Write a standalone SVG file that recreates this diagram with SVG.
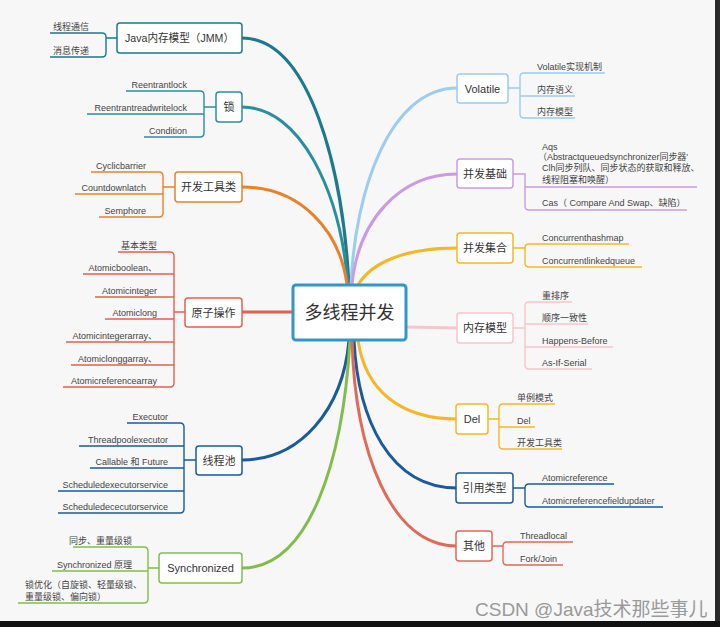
<svg xmlns="http://www.w3.org/2000/svg" width="720" height="627" viewBox="0 0 720 627">
<style>
text{font-family:"Liberation Sans","Noto Sans CJK SC",sans-serif;fill:#444}
.n{font-size:11px;text-anchor:middle;fill:#333}
.c{font-size:9px}
.l{text-anchor:end}
.box{fill:#fff;stroke-width:1.5}
.main{fill:none;stroke-width:3;stroke-linecap:round}
.br{fill:none;stroke-width:1.4}
</style>
<rect width="720" height="627" fill="#f7f7f7"/>
<g id="connectors">
<path class="main" stroke="#1b7a8c" d="M242 38 C310 38,343 170,349 285"/>
<path class="main" stroke="#2b8e9c" d="M242 107 C300 107,340 190,348 285"/>
<path class="main" stroke="#e8822a" d="M242 187 C300 187,340 230,347 285"/>
<path class="main" stroke="#e06150" d="M242 312 H293"/>
<path class="main" stroke="#1a5c9a" d="M242 460 C300 460,343 410,349 340"/>
<path class="main" stroke="#82bd4b" d="M242 568 C310 568,343 460,350 340"/>
<path class="main" stroke="#9cccf0" d="M457 88 C390 88,355 190,351 285"/>
<path class="main" stroke="#c99be3" d="M457 174 C400 174,358 220,352 285"/>
<path class="main" stroke="#f2b825" d="M457 248 C400 248,370 265,358 285"/>
<path class="main" stroke="#f7c5cc" d="M406 327 C430 327,435 328,457 328"/>
<path class="main" stroke="#f2b825" d="M457 419 C400 419,365 390,358 340"/>
<path class="main" stroke="#1a5c9a" d="M457 488 C390 488,358 420,354 340"/>
<path class="main" stroke="#e06a5a" d="M457 546 C390 546,355 450,352 340"/>
</g>
<g id="center">
<rect x="293" y="285" width="113" height="55" rx="3" fill="#fff" stroke="#3396c8" stroke-width="3"/>
<text x="349.5" y="319" style="font-size:18px;text-anchor:middle;fill:#333">多线程并发</text>
</g>
<g id="jmm">
<path class="br" stroke="#1b7a8c" d="M50 33 H102 Q106 33 106 37 V53 Q106 57 102 57 H50 M106 38 H117"/>
<rect class="box" stroke="#1b7a8c" x="117" y="23" width="125" height="30" rx="3"/>
<text class="n" x="179.5" y="42" textLength="109" lengthAdjust="spacingAndGlyphs">Java内存模型（JMM）</text>
<text class="c l" x="89" y="30">线程通信</text>
<text class="c l" x="89" y="54">消息传递</text>
</g>
<g id="lock">
<path class="br" stroke="#2b8e9c" d="M126 91 H200 Q204 91 204 95 V133 Q204 137 200 137 H144 M87 114 H204 M204 107 H216"/>
<rect class="box" stroke="#2b8e9c" x="216" y="92" width="26" height="30" rx="3"/>
<text class="n" x="229" y="111">锁</text>
<text class="c l" x="187" y="88">Reentrantlock</text>
<text class="c l" x="187" y="111">Reentrantreadwritelock</text>
<text class="c l" x="187" y="134">Condition</text>
</g>
<g id="tools">
<path class="br" stroke="#e8822a" d="M91 172 H159 Q163 172 163 176 V213 Q163 217 159 217 H99 M75 194 H163 M163 187 H175"/>
<rect class="box" stroke="#e8822a" x="175" y="172" width="67" height="30" rx="3"/>
<text class="n" x="208.5" y="191">开发工具类</text>
<text class="c l" x="146" y="169">Cyclicbarrier</text>
<text class="c l" x="146" y="191">Countdownlatch</text>
<text class="c l" x="146" y="214">Semphore</text>
</g>
<g id="atomic">
<path class="br" stroke="#e06150" d="M118 252 H170 Q174 252 174 256 V383 Q174 387 170 387 H63 M83 274 H174 M95 297 H174 M105 319 H174 M66 342 H174 M71 365 H174 M174 312 H185"/>
<rect class="box" stroke="#e06150" x="185" y="298" width="57" height="29" rx="3"/>
<text class="n" x="213.5" y="316.5">原子操作</text>
<text class="c l" x="157" y="249">基本类型</text>
<text class="c l" x="157" y="271">Atomicboolean、</text>
<text class="c l" x="157" y="294">Atomicinteger</text>
<text class="c l" x="157" y="316">Atomiclong</text>
<text class="c l" x="157" y="339">Atomicintegerarray、</text>
<text class="c l" x="157" y="362">Atomiclonggarray、</text>
<text class="c l" x="157" y="384">Atomicreferencearray</text>
</g>
<g id="pool">
<path class="br" stroke="#1a5c9a" d="M127 423 H180 Q184 423 184 427 V509 Q184 513 180 513 H58 M79 446 H184 M90 468 H184 M58 491 H184 M184 460 H196"/>
<rect class="box" stroke="#1a5c9a" x="196" y="446" width="46" height="29" rx="3"/>
<text class="n" x="219" y="464.5">线程池</text>
<text class="c l" x="168" y="420">Executor</text>
<text class="c l" x="168" y="443">Threadpoolexecutor</text>
<text class="c l" x="168" y="465">Callable 和 Future</text>
<text class="c l" x="168" y="488">Scheduledexecutorservice</text>
<text class="c l" x="168" y="510">Scheduledececutorservice</text>
</g>
<g id="sync">
<path class="br" stroke="#82bd4b" d="M73 547 H144 Q148 547 148 551 V599 Q148 603 144 603 H18 M52 571 H148 M148 568 H159"/>
<rect class="box" stroke="#82bd4b" x="159" y="553" width="83" height="30" rx="3"/>
<text class="n" x="200.5" y="572">Synchronized</text>
<text class="c l" x="132" y="544">同步、重量级锁</text>
<text class="c l" x="132" y="568">Synchronized 原理</text>
<text class="c" x="25" y="588">锁优化（自旋锁、轻量级锁、</text>
<text class="c" x="25" y="600">重量级锁、偏向锁）</text>
</g>
<g id="volatile">
<path class="br" stroke="#9cccf0" d="M605 73 H524 Q520 73 520 77 V114 Q520 118 524 118 H575 M520 96 H575 M508 88 H520"/>
<rect class="box" stroke="#9cccf0" x="457" y="74" width="51" height="29" rx="3"/>
<text class="n" x="482.5" y="92.5">Volatile</text>
<text class="c" x="537" y="70">Volatile实现机制</text>
<text class="c" x="537" y="93">内存语义</text>
<text class="c" x="537" y="115">内存模型</text>
</g>
<g id="basis">
<path class="br" stroke="#c99be3" d="M513 174 H525 V206 Q525 210 529 210 H687 M525 187 H697"/>
<rect class="box" stroke="#c99be3" x="457" y="159" width="56" height="29" rx="3"/>
<text class="n" x="485" y="177.5">并发基础</text>
<text class="c" x="542" y="150">Aqs</text>
<text class="c" x="538" y="160" textLength="150">（Abstractqueuedsynchronizer同步器'</text>
<text class="c" x="542" y="171">Clh同步列队、同步状态的获取和释放、</text>
<text class="c" x="542" y="183">线程阻塞和唤醒）</text>
<text class="c" x="542" y="206">Cas（ Compare And Swap、缺陷）</text>
</g>
<g id="collections">
<path class="br" stroke="#f2b825" d="M629 244 H529 Q525 244 525 248 V263 Q525 267 529 267 H642 M513 248 H525"/>
<rect class="box" stroke="#f2b825" x="457" y="233" width="56" height="30" rx="3"/>
<text class="n" x="485" y="252">并发集合</text>
<text class="c" x="542" y="241">Concurrenthashmap</text>
<text class="c" x="542" y="264">Concurrentlinkedqueue</text>
</g>
<g id="memmodel">
<path class="br" stroke="#f7c5cc" d="M572 302 H529 Q525 302 525 306 V365 Q525 369 529 369 H592 M525 324 H588 M525 347 H613 M513 328 H525"/>
<rect class="box" stroke="#f7c5cc" x="457" y="313" width="56" height="30" rx="3"/>
<text class="n" x="485" y="332">内存模型</text>
<text class="c" x="542" y="299">重排序</text>
<text class="c" x="542" y="321">顺序一致性</text>
<text class="c" x="542" y="344">Happens-Before</text>
<text class="c" x="542" y="366">As-If-Serial</text>
</g>
<g id="del">
<path class="br" stroke="#f2b825" d="M555 404 H503 Q499 404 499 408 V445 Q499 449 503 449 H562 M499 427 H535 M488 419 H499"/>
<rect class="box" stroke="#f2b825" x="456" y="404" width="32" height="30" rx="3"/>
<text class="n" x="472" y="423">Del</text>
<text class="c" x="517" y="401">单例模式</text>
<text class="c" x="517" y="424">Del</text>
<text class="c" x="517" y="446">开发工具类</text>
</g>
<g id="reftype">
<path class="br" stroke="#1a5c9a" d="M614 484 H529 Q525 484 525 488 V503 Q525 507 529 507 H663 M513 488 H525"/>
<rect class="box" stroke="#1a5c9a" x="456" y="473" width="57" height="30" rx="3"/>
<text class="n" x="484.5" y="492">引用类型</text>
<text class="c" x="542" y="481">Atomicreference</text>
<text class="c" x="542" y="504">Atomicreferencefieldupdater</text>
</g>
<g id="other">
<path class="br" stroke="#e06a5a" d="M573 542 H507 Q503 542 503 546 V561 Q503 565 507 565 H563 M492 546 H503"/>
<rect class="box" stroke="#e06a5a" x="456" y="531" width="36" height="30" rx="3"/>
<text class="n" x="474" y="550">其他</text>
<text class="c" x="520" y="539">Threadlocal</text>
<text class="c" x="520" y="562">Fork/Join</text>
</g>
<text x="475" y="616" style="font-size:19px;fill:#8a8a8a;opacity:0.85">CSDN @Java技术那些事儿</text>
<rect x="0" y="621" width="720" height="6" fill="#111"/>
<rect x="715" y="0" width="5" height="621" fill="#2b2b2b"/>
</svg>
